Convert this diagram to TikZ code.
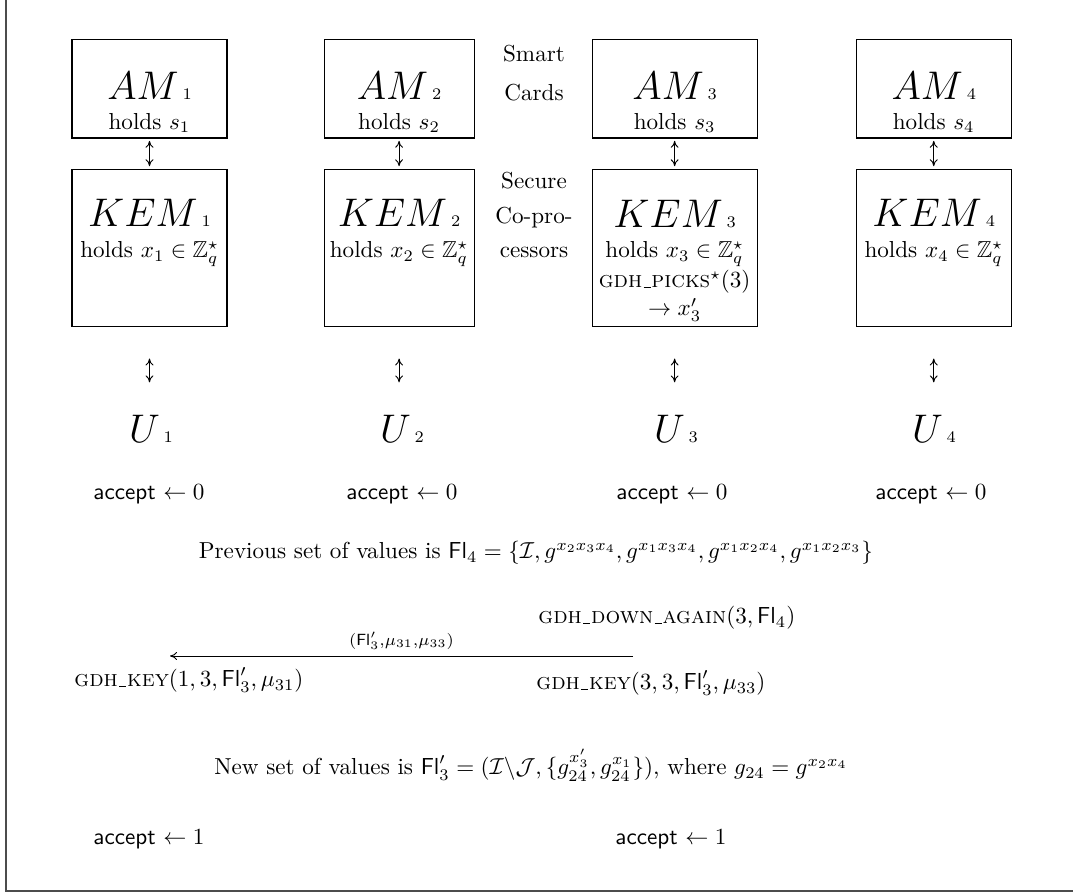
\documentclass[tikz,border=0pt]{standalone}
\usepackage{amsmath,amssymb}
\usepackage{tikz}
\usetikzlibrary{arrows.meta,positioning,calc}

\newcommand{\agent}[2]{{\fontsize{19}{23}\selectfont$#1$}\,{\scriptsize#2}}
\newcommand{\Fl}{\mathsf{Fl}}
\newcommand{\acc}[1]{\textsf{accept} $\leftarrow #1$}
\newcommand{\gdhbar}{\kern.06em\vbox{\hrule width.3em}\kern.04em}

\begin{document}
\begin{tikzpicture}[
  x=0.0152cm, y=-0.0152cm,
  node distance=0.456cm,
  card/.style={draw, line width=0.45pt, minimum height=1.49cm, inner sep=0pt},
  chip/.style={draw, line width=0.45pt, minimum height=2.386cm, inner sep=0pt},
  word/.style={anchor=base, inner sep=0pt},
  note/.style={anchor=north, align=center, inner sep=0pt},
  link/.style={{To[length=3pt,width=3.4pt]}-{To[length=3pt,width=3.4pt]}, line width=0.4pt},
  msg/.style={-{To[length=3pt,width=3.4pt]}, line width=0.4pt}
]
\useasboundingbox (0,0) rectangle (1073,894);
\draw[line width=0.9pt, black!70] (6,0) -- (6,891) -- (1073,891);

% smart cards
\node[card, minimum width=2.356cm] (am1) at (149.5,89) {};
\node[card, minimum width=2.28cm, right=1.459cm of am1] (am2) {};
\node[card, minimum width=2.508cm, right=1.778cm of am2] (am3) {};
\node[card, minimum width=2.356cm, right=1.49cm of am3] (am4) {};

% secure co-processors
\node[chip, minimum width=2.356cm, below=of am1] (kem1) {};
\node[chip, minimum width=2.28cm, below=of am2] (kem2) {};
\node[chip, minimum width=2.508cm, below=of am3] (kem3) {};
\node[chip, minimum width=2.356cm, below=of am4] (kem4) {};

\node[word] (am1n) at ($(am1.north)+(0,60)$) {\agent{AM}{1}};
\node[word] (am2n) at ($(am2.north)+(0,60)$) {\agent{AM}{2}};
\node[word] (am3n) at ($(am3.north)+(0,60)$) {\agent{AM}{3}};
\node[word] (am4n) at ($(am4.north)+(0,60)$) {\agent{AM}{4}};
\node[word] (am1s) at ($(am1.north)+(0,90)$) {holds $s_1$};
\node[word] (am2s) at ($(am2.north)+(0,90)$) {holds $s_2$};
\node[word] (am3s) at ($(am3.north)+(0,90)$) {holds $s_3$};
\node[word] (am4s) at ($(am4.north)+(0,90)$) {holds $s_4$};

\node[word] (kem1n) at ($(kem1.north)+(0,58)$) {\agent{KEM}{1}};
\node[word] (kem2n) at ($(kem2.north)+(0,58)$) {\agent{KEM}{2}};
\node[word] (kem3n) at ($(kem3.north)+(0,59)$) {\agent{KEM}{3}};
\node[word] (kem4n) at ($(kem4.north)+(0,58)$) {\agent{KEM}{4}};
\node[word] (kem1x) at ($(kem1.north)+(0,89)$) {holds $x_1\in\mathbb{Z}_q^\star$};
\node[word] (kem2x) at ($(kem2.north)+(0,89)$) {holds $x_2\in\mathbb{Z}_q^\star$};
\node[word] (kem3x) at ($(kem3.north)+(0,89)$) {holds $x_3\in\mathbb{Z}_q^\star$};
\node[word] (kem4x) at ($(kem4.north)+(0,89)$) {holds $x_4\in\mathbb{Z}_q^\star$};
\node[word] (kem3p) at ($(kem3.north)+(0,119)$) {\textsc{gdh\gdhbar picks}$^\star(3)$};
\node[word] (kem3q) at ($(kem3.north)+(0,147)$) {$\rightarrow x'_3$};

\node[note, font=\fontsize{10}{16.9}\selectfont] (cards) at (534,45) {Smart\\Cards};
\node[note, font=\fontsize{10}{14.9}\selectfont] (copro) at (534,172) {Secure\\Co-pro-\\cessors};

% users
\node[word] (u1) at (151,443) {\agent{U}{1}};
\node[word] (u2) at (402,443) {\agent{U}{2}};
\node[word] (u3) at (676,443) {\agent{U}{3}};
\node[word] (u4) at (934,443) {\agent{U}{4}};

\draw[link, shorten <=1pt, shorten >=1pt] (am1) -- (kem1);
\draw[link, shorten <=1pt, shorten >=1pt] (am2) -- (kem2);
\draw[link, shorten <=1pt, shorten >=1pt] (am3) -- (kem3);
\draw[link, shorten <=1pt, shorten >=1pt] (am4) -- (kem4);
\draw[link, shorten <=0.486cm, shorten >=0.5cm] (kem1.south) -- (kem1.south |- u1.north);
\draw[link, shorten <=0.486cm, shorten >=0.5cm] (kem2.south) -- (kem2.south |- u2.north);
\draw[link, shorten <=0.486cm, shorten >=0.5cm] (kem3.south) -- (kem3.south |- u3.north);
\draw[link, shorten <=0.486cm, shorten >=0.5cm] (kem4.south) -- (kem4.south |- u4.north);

\node[word] (acc1) at (149,500) {\acc{0}};
\node[word] (acc2) at (402,500) {\acc{0}};
\node[word] (acc3) at (672,500) {\acc{0}};
\node[word] (acc4) at (931,500) {\acc{0}};

\node[word] (prev) at (536,559)
  {Previous set of values is $\Fl_4=\{\mathcal{I},g^{x_2x_3x_4},g^{x_1x_3x_4},g^{x_1x_2x_4},g^{x_1x_2x_3}\}$};

\node[word, anchor=base west] (down) at (538,624) {\textsc{gdh\gdhbar down\gdhbar again}$(3,\Fl_4)$};
\coordinate (m3) at (633,656);
\coordinate (m1) at (170,656);
\draw[msg] (m3) -- node[above, inner sep=2.5pt] (lbl) {$\scriptstyle(\Fl'_3,\mu_{31},\mu_{33})$} (m1);
\node[word, anchor=base west] (key1) at (74,687) {\textsc{gdh\gdhbar key}$(1,3,\Fl'_3,\mu_{31})$};
\node[word, anchor=base west] (key3) at (536,690) {\textsc{gdh\gdhbar key}$(3,3,\Fl'_3,\mu_{33})$};

\node[word] (new) at (531,775)
  {New set of values is $\Fl'_3=(\mathcal{I}\backslash\mathcal{J},\{g_{24}^{x'_3},g_{24}^{x_1}\}),$ where $g_{24}=g^{x_2x_4}$};

\node[word] (fin1) at (149,845) {\acc{1}};
\node[word] (fin3) at (671,845) {\acc{1}};
\end{tikzpicture}
\end{document}
